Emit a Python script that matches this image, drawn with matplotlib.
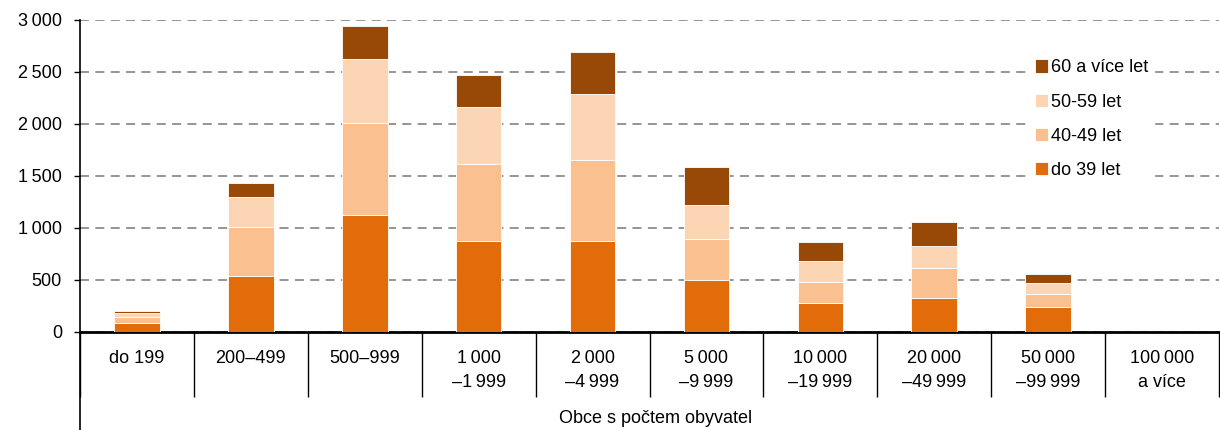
import numpy as np
import matplotlib
matplotlib.use("Agg")
import matplotlib.pyplot as plt
from matplotlib.lines import Line2D
from matplotlib.ticker import FuncFormatter

plt.rcParams['font.family'] = ['Liberation Sans', 'DejaVu Sans']

# Data
categories = ['do 199', '200–499', '500–999', '1\u2009000\n–1\u2009999', '2\u2009000\n–4\u2009999',
              '5\u2009000\n–9\u2009999', '10\u2009000\n–19\u2009999', '20\u2009000\n–49\u2009999',
              '50\u2009000\n–99\u2009999', '100\u2009000\na více']
do_39 = [83, 538, 1128, 878, 878, 503, 276, 330, 240, 0]
age_40_49 = [64, 475, 882, 737, 776, 394, 208, 285, 128, 0]
age_50_59 = [39, 288, 615, 552, 631, 327, 196, 209, 100, 0]
age_60 = [14, 132, 317, 307, 411, 359, 182, 230, 93, 0]

series = [('do 39 let', do_39, '#E36C0A'),
          ('40-49 let', age_40_49, '#FAC090'),
          ('50-59 let', age_50_59, '#FCD5B5'),
          ('60 a více let', age_60, '#984807')]

fig = plt.figure(figsize=(12.2, 4.3), dpi=100)
ax = fig.add_axes([80 / 1220, 98 / 430, 1139 / 1220, 312 / 430])

x = np.arange(len(categories))
bottom = np.zeros(len(categories))
handles = []
for name, vals, col in series:
    b = ax.bar(x, vals, width=0.4, bottom=bottom, color=col, edgecolor='white',
               linewidth=0.6, label=name, zorder=3)
    handles.append(b)
    bottom += np.array(vals)

ax.set_xlim(-0.5, len(categories) - 0.5)
ax.set_ylim(0, 3000)
ax.set_yticks(np.arange(0, 3001, 500))
ax.yaxis.set_major_formatter(FuncFormatter(lambda v, p: f'{int(v):,}'.replace(',', '\u2009')))
ax.yaxis.grid(True, linestyle=(0, (5, 3.5)), color='#8c8c8c', linewidth=1.3, zorder=0)

ax.set_xticks(x)
ax.set_xticklabels(categories, fontsize=13, linespacing=1.55)
ax.tick_params(axis='x', which='major', length=0, pad=13)
ax.set_xticks(np.arange(-0.5, len(categories), 1), minor=True)
ax.tick_params(axis='x', which='minor', length=47, width=1, color='black')
ax.tick_params(axis='y', labelsize=13, length=4, width=1, pad=9)

for s in ['top', 'right']:
    ax.spines[s].set_visible(False)
ax.spines['bottom'].set_linewidth(2)
ax.spines['left'].set_linewidth(1.2)

# left axis line continues down to the figure bottom
fig.add_artist(Line2D([80 / 1220, 80 / 1220], [0, 98 / 430], color='black',
                      linewidth=1.2, transform=fig.transFigure))

fig.text(656 / 1220, 0.008, 'Obce s počtem obyvatel', fontsize=13, ha='center', va='bottom')

leg = ax.legend(handles=handles[::-1], loc='upper left', bbox_to_anchor=(0.8256, 0.92),
                frameon=True, framealpha=1, edgecolor='white', fontsize=13,
                handlelength=0.75, handleheight=0.75, handletextpad=0.15,
                labelspacing=0.95, borderpad=0.3)
leg.set_zorder(5)

fig.savefig('out.png', dpi=100)
